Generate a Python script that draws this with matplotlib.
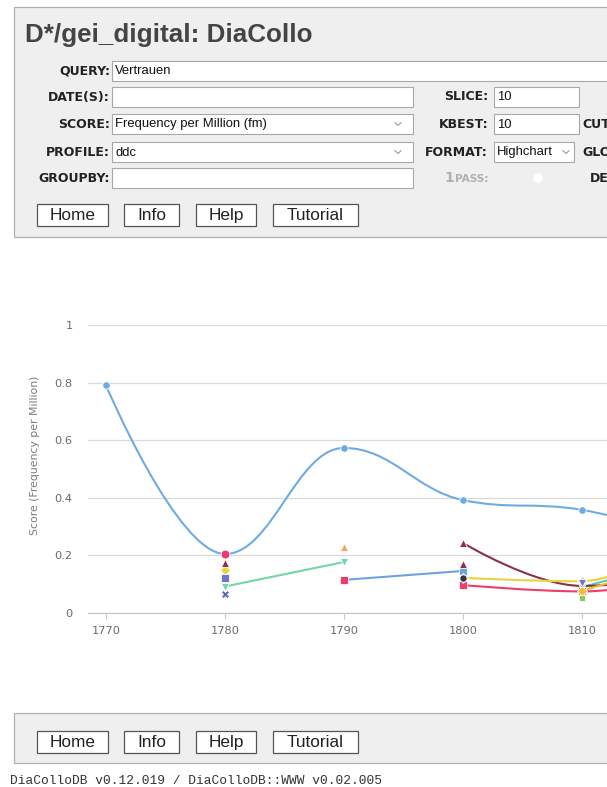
"""DiaCollo page screenshot: form panel, Highcharts-style spline chart, footer."""
import numpy as np
import matplotlib
matplotlib.use("Agg")
import matplotlib.pyplot as plt
from matplotlib.path import Path
from matplotlib.patches import PathPatch, Rectangle, Circle

W, H = 607, 787
nan = np.nan

# ---- chart data: score (frequency per million) per decade, nan = no value
decades = [1770, 1780, 1790, 1800, 1810, 1820]
s_main = [0.79, 0.205, 0.573, 0.392, 0.358, 0.25]
s_green = [nan, 0.092, 0.177, nan, nan, nan]
s_blue2 = [nan, nan, 0.115, 0.146, nan, nan]
s_maroon = [nan, nan, nan, 0.243, 0.094, 0.14]
s_yellow = [nan, 0.150, nan, 0.122, 0.110, 0.32]
s_red = [nan, nan, nan, 0.097, 0.075, 0.13]
s_gold = [nan, nan, nan, nan, 0.077, 0.20]
s_teal = [nan, nan, nan, nan, 0.090, 0.20]
s_orange = [nan, nan, 0.230, nan, nan, nan]
s_maroon2 = [nan, 0.175, nan, 0.170, nan, nan]
s_purple = [nan, 0.120, nan, nan, nan, nan]
s_purple2 = [nan, nan, nan, nan, 0.104, nan]
s_navy = [nan, nan, nan, 0.122, nan, nan]
s_lgreen = [nan, 0.062, nan, nan, 0.052, nan]
s_cross = [nan, 0.066, nan, nan, nan, nan]
s_red1 = [nan, 0.205, nan, nan, nan, nan]
s_red2 = [nan, nan, 0.115, nan, nan, nan]

yticks = [0, 0.2, 0.4, 0.6, 0.8, 1]
ytick_labels = ["0", "0.2", "0.4", "0.6", "0.8", "1"]
xticks = [1770, 1780, 1790, 1800, 1810, 1820]

# (values, color, marker, marker size) in drawing order
series = [
    (s_main, "#6fabe3", "o", 5.4),
    (s_green, "#73d6a8", "v", 5.6),
    (s_teal, "#5cc7c0", "v", 5.6),
    (s_blue2, "#6fa3dc", "s", 5.2),
    (s_maroon, "#8a3048", "^", 6.0),
    (s_red, "#ee3c6c", "s", 5.2),
    (s_gold, "#f2bd2a", "D", 4.6),
    (s_yellow, "#e6d43c", "D", 4.6),
    (s_orange, "#f7a35c", "^", 5.8),
    (s_maroon2, "#8a3048", "^", 5.6),
    (s_purple, "#7075d0", "s", 5.6),
    (s_lgreen, "#86c95a", "s", 5.0),
    (s_cross, "#5468b0", "X", 5.2),
    (s_purple2, "#7075d0", "v", 5.8),
    (s_navy, "#333344", "o", 5.2),
    (s_red2, "#ee3c6c", "s", 5.6),
    (s_red1, "#f0386c", "o", 6.4),
]


def spline_path(xs, ys, smoothing=1.5):
    # Highcharts-like spline: bezier control points kept between neighbours
    n = len(xs)
    lc = list(zip(xs, ys))
    rc = list(zip(xs, ys))
    d = smoothing + 1
    for i in range(1, n - 1):
        x, y = xs[i], ys[i]
        lx, ly, nx, ny = xs[i - 1], ys[i - 1], xs[i + 1], ys[i + 1]
        lcx = (smoothing * x + lx) / d; lcy = (smoothing * y + ly) / d
        rcx = (smoothing * x + nx) / d; rcy = (smoothing * y + ny) / d
        corr = (rcy - lcy) * (rcx - x) / (rcx - lcx) + y - rcy
        lcy += corr; rcy += corr
        if lcy > ly and lcy > y:
            lcy = max(ly, y); rcy = 2 * y - lcy
        elif lcy < ly and lcy < y:
            lcy = min(ly, y); rcy = 2 * y - lcy
        if rcy > ny and rcy > y:
            rcy = max(ny, y); lcy = 2 * y - rcy
        elif rcy < ny and rcy < y:
            rcy = min(ny, y); lcy = 2 * y - rcy
        lc[i] = (lcx, lcy); rc[i] = (rcx, rcy)
    verts = [(xs[0], ys[0])]; codes = [Path.MOVETO]
    for i in range(1, n):
        verts += [rc[i - 1], lc[i], (xs[i], ys[i])]
        codes += [Path.CURVE4] * 3
    return Path(verts, codes)


def runs(vals):
    cur = []
    for x, v in zip(decades, vals):
        if np.isnan(v):
            if cur:
                yield cur
            cur = []
        else:
            cur.append((x, v))
    if cur:
        yield cur


fig = plt.figure(figsize=(W / 100, H / 100), dpi=100)
fig.patch.set_facecolor("white")

# ---- page elements in pixel coordinates
pg = fig.add_axes([0, 0, 1, 1])
pg.set_xlim(0, W); pg.set_ylim(H, 0); pg.axis("off")

LAB = dict(family="DejaVu Sans", fontweight="bold", fontsize=9.0, color="#222222",
           ha="right", va="center")
INP = dict(family="Liberation Sans", fontsize=9.4, color="#111111", ha="left", va="center")
BTN = dict(family="Liberation Sans", fontsize=12.4, color="#222222", ha="center", va="center")

pg.add_patch(Rectangle((14, 7), 700, 230, fc="#efefef", ec="#b0b0b0", lw=0.9))
pg.add_patch(Rectangle((14, 713), 700, 50, fc="#efefef", ec="#b0b0b0", lw=0.9))
pg.text(25, 42, "D*/gei_digital: DiaCollo", family="Liberation Sans", fontweight="bold",
        fontsize=18.7, color="#444444", ha="left", va="baseline")

rows = [("QUERY:", 71), ("DATE(S):", 97), ("SCORE:", 124), ("PROFILE:", 152), ("GROUPBY:", 178)]
for lab, y in rows:
    pg.text(110, y, lab, **LAB)
for lab, y in [("SLICE:", 97), ("KBEST:", 124), ("FORMAT:", 152)]:
    pg.text(488, y, lab, **LAB)
# labels of the third column are cut by the right edge of the screenshot
for lab, y in [("CUTOFF:", 124), ("GLOBAL:", 152)]:
    pg.text(582, y, lab, **dict(LAB, ha="left"))
pg.text(590, 178, "DEBUG:", **dict(LAB, ha="left"))
pg.text(444, 178, "1", **dict(LAB, ha="left", color="#b0b0b0", fontsize=10))
pg.text(488, 179, "PASS:", **dict(LAB, color="#b0b0b0", fontsize=7.6))
pg.add_patch(Circle((538, 178), 5, fc="white", ec="#f4f4f4", lw=0.5))

boxes = [(112, 61, 720, 81, "Vertrauen"), (112, 87, 413, 107, ""),
         (112, 114, 413, 134, "Frequency per Million (fm)"), (112, 142, 413, 162, "ddc"),
         (112, 168, 413, 188, ""), (494, 87, 579, 107, "10"), (494, 114, 579, 134, "10"),
         (494, 142, 574, 162, "Highchart")]
for x0, y0, x1, y1, t in boxes:
    pg.add_patch(Rectangle((x0, y0), x1 - x0, y1 - y0, fc="white", ec="#a8a8a8", lw=0.8))
    if t:
        pg.text(x0 + 3, (y0 + y1) / 2 + 0.5, t, **INP)
for cx, cy in [(398, 124), (398, 152), (566, 152)]:
    pg.plot([cx - 3, cx, cx + 3], [cy - 1.2, cy + 1.4, cy - 1.2], color="#9a9a9a", lw=0.8)

buttons = [("Home", 37, 108), ("Info", 124, 179), ("Help", 196, 256), ("Tutorial", 273, 358)]
for top in (204, 731):
    for t, x0, x1 in buttons:
        pg.add_patch(Rectangle((x0, top), x1 - x0, 22, fc="white", ec="#555555", lw=0.9))
        pg.text((x0 + x1) / 2, top + 11.5, t, **BTN)

pg.text(10, 781, "DiaColloDB v0.12.019 / DiaColloDB::WWW v0.02.005", family="Liberation Mono",
        fontsize=9.3, color="#333333", ha="left", va="center")

# ---- chart
ax = fig.add_axes([88 / W, 1 - 613 / H, 519 / W, 288 / H])
ax.patch.set_alpha(0)

for vals, col, mk, ms in series:
    for seg in runs(vals):
        xs = [p[0] for p in seg]; ys = [p[1] for p in seg]
        if len(seg) > 1:
            ax.add_patch(PathPatch(spline_path(xs, ys), fc="none", ec=col, lw=1.5,
                                   capstyle="round", joinstyle="round"))
        ax.plot(xs, ys, ls="none", marker=mk, ms=ms, mfc=col, mec="white", mew=0.6)

for s in ("left", "right", "top"):
    ax.spines[s].set_visible(False)
ax.spines["bottom"].set_color("#c8c8c8")
ax.spines["bottom"].set_linewidth(0.9)
ax.set_yticks(yticks)
ax.set_yticklabels(ytick_labels)
ax.set_xticks(xticks)
ax.set_xticklabels([str(x) for x in xticks])
# limits after the ticks, so the 1820 tick does not widen the view
ax.set_xlim(1770 - 18 / 11.9, 1770 + 501 / 11.9)
ax.set_ylim(0, 1)
ax.yaxis.grid(True, color="#d9d9d9", lw=0.9)
ax.set_axisbelow(True)
ax.tick_params(axis="y", length=0, pad=11, labelsize=8.2, labelcolor="#6a6a6a")
ax.tick_params(axis="x", length=4, width=0.8, color="#c8c8c8", pad=5, labelsize=8.2,
               labelcolor="#6a6a6a")
ax.set_ylabel("Score (Frequency per Million)", fontsize=7.8, color="#7a7a7a")
ax.yaxis.set_label_coords((40 - 88) / 519, (613 - 455) / 288)

fig.savefig("out.png", dpi=100, facecolor="white")
